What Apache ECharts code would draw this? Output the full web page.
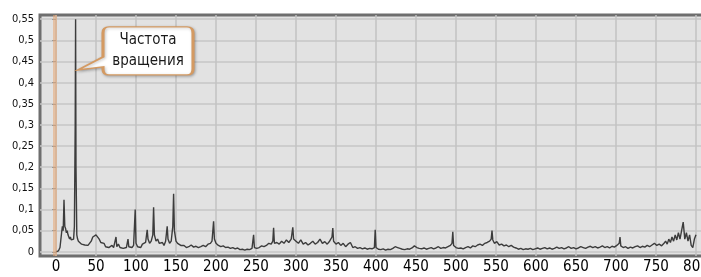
<!DOCTYPE html>
<html><head><meta charset="utf-8">
<script src="https://cdn.jsdelivr.net/npm/echarts@6/dist/echarts.min.js"></script>
<style>html,body{margin:0;padding:0;background:#fff}#c{width:701px;height:277px}</style>
</head><body><div id="c"></div>
<script>
const xTicks = [0,50,100,150,200,250,300,350,400,450,500,550,600,650,700,750,800];
const yTicks = [0,0.05,0.1,0.15,0.2,0.25,0.3,0.35,0.4,0.45,0.5,0.55];
const freq = [0,3,5,7,8,9,10,11,12,13,14,15,16,17,18,19,20,21,22,23,24,24.5,25,26,27,28,30,32,34,36,38,40,42,44,46,48,50,52,54,56,58,60,62,64,66,68,70,72,74,75,76,78,80,82,84,86,88,90,91,93,95,97,99,100,102,104,106,108,110,112,114,115,117,119,121,122,123,125,127,129,131,133,135,137,139,140,142,144,146,147,148,150,152,154,156,158,160,163,166,169,172,175,178,181,184,187,190,193,195,197,198,200,203,206,209,212,215,218,221,224,227,230,233,236,239,242,245,247,248,251,254,257,260,263,266,269,271,272,273,276,279,282,285,288,291,294,296,297,300,303,306,309,312,315,318,321,324,327,330,333,336,339,342,345,346,347,350,353,356,359,362,365,368,371,374,377,380,383,386,389,392,395,398,399,400,403,406,409,412,415,418,421,424,427,430,433,436,439,442,445,448,451,454,457,460,463,466,469,472,475,478,481,484,487,490,493,495,496,497,500,503,506,509,512,515,518,521,524,527,530,533,536,539,542,544,545,546,548,551,554,557,560,563,566,569,572,575,578,581,584,587,590,593,596,599,602,605,608,611,614,617,620,623,626,629,632,635,638,641,644,647,650,653,656,659,662,665,668,671,674,677,680,683,686,689,692,695,698,701,704,705,706,709,712,715,718,721,724,727,730,733,736,739,742,745,748,751,754,757,760,762,764,766,768,770,772,774,776,778,780,782,784,786,788,790,792,794,796,798,800];
const amp = [0,0.002,0.01,0.045,0.06,0.05,0.123,0.06,0.055,0.045,0.05,0.04,0.038,0.03,0.035,0.028,0.03,0.025,0.03,0.06,0.3,0.55,0.2,0.04,0.03,0.025,0.028,0.018,0.022,0.016,0.02,0.015,0.018,0.025,0.035,0.038,0.04,0.036,0.03,0.022,0.018,0.02,0.012,0.015,0.01,0.012,0.015,0.01,0.012,0.035,0.012,0.018,0.01,0.013,0.008,0.012,0.01,0.03,0.012,0.015,0.01,0.015,0.1,0.02,0.012,0.015,0.01,0.018,0.015,0.022,0.052,0.03,0.02,0.025,0.04,0.105,0.04,0.025,0.03,0.02,0.018,0.022,0.015,0.025,0.06,0.03,0.02,0.025,0.06,0.137,0.05,0.025,0.02,0.018,0.015,0.012,0.015,0.01,0.012,0.016,0.011,0.013,0.01,0.012,0.015,0.012,0.018,0.02,0.025,0.072,0.03,0.02,0.015,0.012,0.014,0.01,0.011,0.008,0.01,0.007,0.009,0.005,0.006,0.004,0.006,0.005,0.008,0.04,0.01,0.008,0.01,0.014,0.012,0.015,0.02,0.018,0.025,0.057,0.02,0.022,0.018,0.025,0.02,0.028,0.022,0.03,0.058,0.03,0.025,0.02,0.028,0.018,0.022,0.016,0.02,0.025,0.018,0.022,0.03,0.02,0.024,0.018,0.025,0.035,0.056,0.025,0.018,0.022,0.015,0.02,0.012,0.018,0.022,0.01,0.012,0.008,0.01,0.007,0.009,0.006,0.008,0.007,0.01,0.052,0.01,0.006,0.005,0.007,0.004,0.006,0.005,0.008,0.012,0.01,0.008,0.006,0.005,0.007,0.006,0.009,0.014,0.01,0.008,0.007,0.009,0.006,0.008,0.01,0.007,0.009,0.012,0.008,0.01,0.009,0.012,0.015,0.02,0.047,0.015,0.01,0.008,0.009,0.007,0.01,0.012,0.009,0.014,0.012,0.016,0.018,0.015,0.02,0.022,0.025,0.03,0.05,0.028,0.02,0.024,0.016,0.018,0.014,0.016,0.012,0.015,0.011,0.009,0.006,0.008,0.005,0.007,0.006,0.008,0.005,0.007,0.009,0.006,0.008,0.01,0.007,0.009,0.006,0.008,0.011,0.008,0.01,0.007,0.009,0.012,0.008,0.01,0.007,0.009,0.012,0.01,0.008,0.011,0.013,0.01,0.012,0.009,0.011,0.014,0.01,0.012,0.009,0.013,0.011,0.015,0.02,0.035,0.014,0.01,0.012,0.008,0.011,0.009,0.012,0.014,0.01,0.013,0.011,0.015,0.012,0.016,0.02,0.015,0.018,0.014,0.02,0.025,0.018,0.03,0.022,0.035,0.025,0.04,0.028,0.045,0.03,0.05,0.07,0.03,0.045,0.025,0.04,0.015,0.01,0.03,0.04];
const calloutText = 'Частота\nвращения';
const calloutAt = [27.5, 0.43];
const markerFreq = -1;

const font = "'DejaVu Sans Condensed','Liberation Sans Narrow',sans-serif";
const chart = echarts.init(document.getElementById('c'), null, {renderer: 'canvas'});
chart.setOption({
  animation: false,
  backgroundColor: '#ffffff',
  grid: {left: 40, top: 15, width: 670, height: 241, show: true, containLabel: false,
    outerBoundsMode: 'none',
    backgroundColor: '#e2e2e2', borderColor: '#6e6e6e', borderWidth: 3},
  xAxis: {type: 'value', min: -20, max: 817.5,
    axisLine: {show: false},
    axisTick: {show: false, customValues: xTicks},
    axisLabel: {customValues: xTicks, fontFamily: font, fontSize: 15, color: '#000', margin: 4,
      hideOverlap: false},
    splitLine: {show: true, lineStyle: {color: '#c2c2c2', width: 1.5}}},
  yAxis: {type: 'value', min: -0.01, max: 0.56,
    axisLine: {show: false},
    axisTick: {show: true, length: 4, customValues: yTicks, lineStyle: {color: '#999'}},
    axisLabel: {customValues: yTicks, fontFamily: font, fontSize: 11, color: '#111', margin: 6,
      formatter: v => String(+v.toFixed(2)).replace('.', ',')},
    splitLine: {show: true, lineStyle: {color: '#c6c6c6', width: 1.5}}},
  series: [{
    type: 'line', showSymbol: false, symbol: 'none',
    data: freq.map((f, i) => [f, amp[i]]),
    lineStyle: {color: '#3c3c3c', width: 1.4},
    markLine: {silent: true, symbol: 'none', label: {show: false},
      lineStyle: {color: 'rgba(230,165,115,0.55)', width: 4, type: 'solid'},
      data: [{xAxis: markerFreq}]},
    markPoint: {silent: true, data: [{
      coord: calloutAt,
      symbol: 'path://M31 0 L109 0 Q115 0 115 6 L115 42 Q115 48 109 48 L31 48 Q25 48 25 42 L25 40 L0 43 L25 30 L25 6 Q25 0 31 0 Z',
      symbolSize: [115, 48],
      symbolOffset: [57.5, -19],
      itemStyle: {color: '#ffffff', borderColor: '#d49a62', borderWidth: 2,
        shadowColor: 'rgba(0,0,0,0.25)', shadowBlur: 3, shadowOffsetX: 1, shadowOffsetY: 1},
      label: {show: true, position: 'inside', offset: [12.5, 0], formatter: calloutText,
        fontFamily: font, fontSize: 15, lineHeight: 21, color: '#1a1a1a'}
    }]}
  }]
});
</script></body></html>
